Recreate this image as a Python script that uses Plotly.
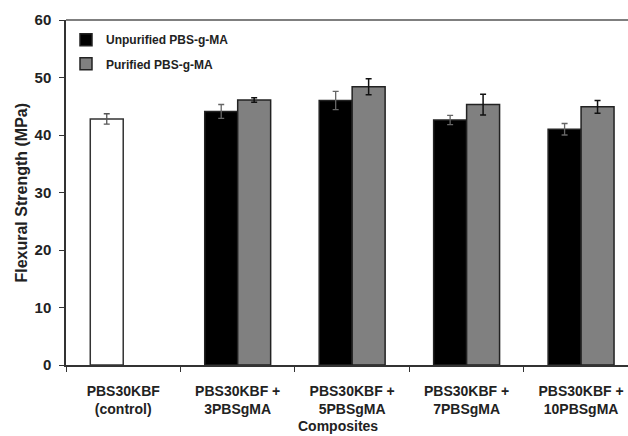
import plotly.graph_objects as go

categories = ["PBS30KBF<br>(control)", "PBS30KBF +<br>3PBSgMA", "PBS30KBF +<br>5PBSgMA",
              "PBS30KBF +<br>7PBSgMA", "PBS30KBF +<br>10PBSgMA"]
control_value = [42.8]
control_err = [0.9]
unpurified = [None, 44.1, 46.0, 42.6, 41.0]
unpurified_err = [0, 1.2, 1.6, 0.8, 1.0]
purified = [None, 46.1, 48.4, 45.3, 44.9]
purified_err = [0, 0.4, 1.4, 1.8, 1.1]

W = 0.288
FONT = "Liberation Sans, Arial, sans-serif"

fig = go.Figure()
fig.add_trace(go.Bar(x=categories[:1], y=control_value, width=W, offset=-W,
                     marker=dict(color="white", line=dict(color="#333", width=1.5)),
                     error_y=dict(type="data", array=control_err, color="#555", thickness=1.3, width=3),
                     showlegend=False))
fig.add_trace(go.Bar(x=categories, y=unpurified, width=W, offset=-W, name="Unpurified PBS-g-MA",
                     marker=dict(color="black", line=dict(color="#222", width=1.5)),
                     error_y=dict(type="data", array=unpurified_err, color="#666", thickness=1.3, width=3),
                     legend="legend"))
fig.add_trace(go.Bar(x=categories, y=purified, width=W, offset=0, name="Purified PBS-g-MA",
                     marker=dict(color="#808080", line=dict(color="#222", width=1.5)),
                     error_y=dict(type="data", array=purified_err, color="#111", thickness=1.5, width=3),
                     legend="legend2"))

fig.update_layout(
    width=628, height=436, margin=dict(l=66, r=0, t=20, b=71),
    paper_bgcolor="white", plot_bgcolor="white", barmode="overlay",
    font=dict(family=FONT, color="#222"),
    legend=dict(x=0.0, y=0.985, xanchor="left", yanchor="top", bgcolor="rgba(0,0,0,0)",
                font=dict(size=12, family=FONT, color="#222", weight="bold")),
    legend2=dict(x=0.0, y=0.915, xanchor="left", yanchor="top", bgcolor="rgba(0,0,0,0)",
                 font=dict(size=12, family=FONT, color="#222", weight="bold")),
    xaxis=dict(type="category", range=[-0.5, 4.41], tickson="boundaries", ticks="outside",
               ticklen=5, tickcolor="#333", showline=True, linecolor="#333", linewidth=1.5,
               showgrid=False, ticklabelstandoff=12,
               tickfont=dict(size=14, family=FONT, color="#222", weight="bold")),
    yaxis=dict(range=[0, 60], dtick=10, ticks="outside", ticklen=5, tickcolor="#333",
               showline=True, linecolor="#333", linewidth=1.5, showgrid=False, zeroline=False,
               ticklabelstandoff=5,
               tickfont=dict(size=15, family=FONT, color="#222", weight="bold")),
    shapes=[dict(type="line", xref="paper", yref="paper", x0=0, x1=1, y0=1, y1=1,
                 line=dict(color="#555", width=1.5))],
    annotations=[
        dict(text="Composites", xref="paper", yref="paper", x=0.484, y=-0.178, yanchor="middle",
             showarrow=False, font=dict(size=14, family=FONT, color="#222", weight="bold")),
        dict(text="Flexural Strength (MPa)", xref="paper", yref="paper", x=-0.08, y=0.5,
             textangle=-90, showarrow=False, xanchor="center",
             font=dict(size=16, family=FONT, color="#222", weight="bold")),
    ],
)
fig.write_html("out.html")
